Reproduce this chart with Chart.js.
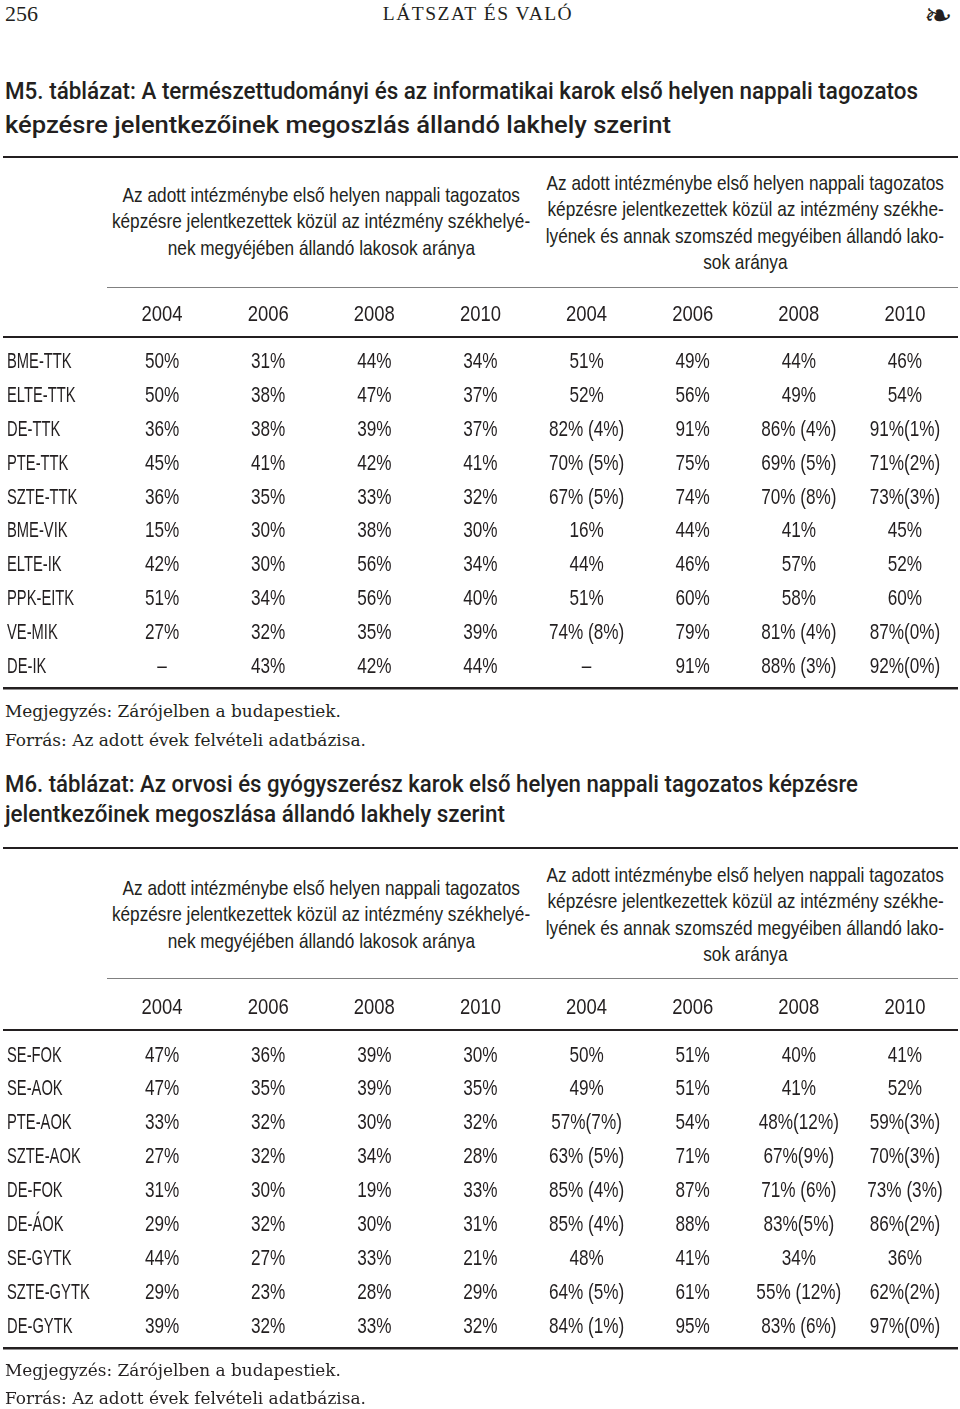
<!DOCTYPE html>
<html lang="hu">
<head>
<meta charset="utf-8">
<title>M5–M6. táblázat</title>
<script src="https://cdn.jsdelivr.net/npm/chart.js@4.4.1/dist/chart.umd.min.js"></script>
<style>
  body { margin: 0; background: #fff; }
  #page { position: relative; width: 960px; height: 1409px; overflow: hidden; color: #231f20;
    font-family: "Liberation Sans", Arial, sans-serif; }
  .t { position: absolute; white-space: nowrap; }
  .serif { font-family: "DejaVu Serif", "Liberation Serif", serif; }
  .title { left: 5px; font-family: Roboto, "Liberation Sans", sans-serif; font-size: 23px; font-weight: 500;
    line-height: 30px; transform-origin: 0 50%; }
  .head { font-size: 21px; line-height: 26.5px; transform-origin: 50% 50%; }
  .note { left: 5px; font-size: 16.5px; line-height: 24px; transform-origin: 0 50%; }
  .rule { position: absolute; background: #231f20; }
  .thin { position: absolute; background: #808080; height: 1px; left: 107px; width: 851px; }
  canvas { position: absolute; left: 0; }
</style>
</head>
<body>
<div id="page">
  <div class="t" style="left:5px;top:0;font-family:'Liberation Serif',serif;font-size:22px;line-height:28px;">256</div>
  <div class="t" style="left:330px;width:296px;text-align:center;top:1px;font-family:'Liberation Serif',serif;font-size:19.5px;line-height:26px;letter-spacing:1.5px;">LÁTSZAT ÉS VALÓ</div>
  <div class="t" style="left:924px;top:-4px;font-family:'DejaVu Sans';font-size:34px;line-height:38px;">❧</div>

  <div class="t title fit" data-w="913" style="top:77px;">M5. táblázat: A természettudományi és az informatikai karok első helyen nappali tagozatos</div>
  <div class="t title fit" data-w="666" style="top:111px;">képzésre jelentkezőinek megoszlás állandó lakhely szerint</div>
  <div class="rule" style="left:3px;width:955px;top:155.5px;height:2px;"></div>
  <div class="thin" style="top:287px;"></div>
  <canvas id="m5Chart" width="960" height="410" style="top:290px;"></canvas>
  <div class="t serif note fit" data-w="336" style="top:700px;">Megjegyzés: Zárójelben a budapestiek.</div>
  <div class="t serif note fit" data-w="361" style="top:729px;">Forrás: Az adott évek felvételi adatbázisa.</div>

  <div class="t title fit" data-w="853" style="top:770px;">M6. táblázat: Az orvosi és gyógyszerész karok első helyen nappali tagozatos képzésre</div>
  <div class="t title fit" data-w="500" style="top:800px;">jelentkezőinek megoszlása állandó lakhely szerint</div>
  <div class="rule" style="left:3px;width:955px;top:847px;height:2px;"></div>
  <div class="thin" style="top:978px;"></div>
  <canvas id="m6Chart" width="960" height="380" style="top:980px;"></canvas>
  <div class="t serif note fit" data-w="336" style="top:1359px;">Megjegyzés: Zárójelben a budapestiek.</div>
  <div class="t serif note fit" data-w="361" style="top:1387px;">Forrás: Az adott évek felvételi adatbázisa.</div>
</div>
<script>
const years = ["2004", "2006", "2008", "2010"];
const columns = years.concat(years);

const headLocal = [
  "Az adott intézménybe első helyen nappali tagozatos",
  "képzésre jelentkezettek közül az intézmény székhelyé-",
  "nek megyéjében állandó lakosok aránya"
];
const headNeighbour = [
  "Az adott intézménybe első helyen nappali tagozatos",
  "képzésre jelentkezettek közül az intézmény székhe-",
  "lyének és annak szomszéd megyéiben állandó lako-",
  "sok aránya"
];

const m5Rows = ["BME-TTK", "ELTE-TTK", "DE-TTK", "PTE-TTK", "SZTE-TTK", "BME-VIK", "ELTE-IK", "PPK-EITK", "VE-MIK", "DE-IK"];
const m5Cells = [
  ["50%", "31%", "44%", "34%", "51%", "49%", "44%", "46%"],
  ["50%", "38%", "47%", "37%", "52%", "56%", "49%", "54%"],
  ["36%", "38%", "39%", "37%", "82% (4%)", "91%", "86% (4%)", "91%(1%)"],
  ["45%", "41%", "42%", "41%", "70% (5%)", "75%", "69% (5%)", "71%(2%)"],
  ["36%", "35%", "33%", "32%", "67% (5%)", "74%", "70% (8%)", "73%(3%)"],
  ["15%", "30%", "38%", "30%", "16%", "44%", "41%", "45%"],
  ["42%", "30%", "56%", "34%", "44%", "46%", "57%", "52%"],
  ["51%", "34%", "56%", "40%", "51%", "60%", "58%", "60%"],
  ["27%", "32%", "35%", "39%", "74% (8%)", "79%", "81% (4%)", "87%(0%)"],
  ["–", "43%", "42%", "44%", "–", "91%", "88% (3%)", "92%(0%)"]
];

const m6Rows = ["SE-FOK", "SE-AOK", "PTE-AOK", "SZTE-AOK", "DE-FOK", "DE-ÁOK", "SE-GYTK", "SZTE-GYTK", "DE-GYTK"];
const m6Cells = [
  ["47%", "36%", "39%", "30%", "50%", "51%", "40%", "41%"],
  ["47%", "35%", "39%", "35%", "49%", "51%", "41%", "52%"],
  ["33%", "32%", "30%", "32%", "57%(7%)", "54%", "48%(12%)", "59%(3%)"],
  ["27%", "32%", "34%", "28%", "63% (5%)", "71%", "67%(9%)", "70%(3%)"],
  ["31%", "30%", "19%", "33%", "85% (4%)", "87%", "71% (6%)", "73% (3%)"],
  ["29%", "32%", "30%", "31%", "85% (4%)", "88%", "83%(5%)", "86%(2%)"],
  ["44%", "27%", "33%", "21%", "48%", "41%", "34%", "36%"],
  ["29%", "23%", "28%", "29%", "64% (5%)", "61%", "55% (12%)", "62%(2%)"],
  ["39%", "32%", "33%", "32%", "84% (1%)", "95%", "83% (6%)", "97%(0%)"]
];

const ink = "#231f20";
const family = '"Liberation Sans", Arial, sans-serif';
const fontSize = 22;
// the print face is a narrow grotesque; squeeze the sans horizontally to match
const squeeze = { cell: 0.78, year: 0.84, row: 0.67, head: 0.82 };

const page = document.getElementById("page");

document.querySelectorAll(".fit").forEach(el => {
  const w = el.getBoundingClientRect().width;
  el.style.transform = `scaleX(${Number(el.dataset.w) / w})`;
});

function placeHead(lines, cx, top) {
  lines.forEach((txt, i) => {
    const d = document.createElement("div");
    d.className = "t head";
    d.textContent = txt;
    d.style.top = (top + i * 26.5) + "px";
    page.appendChild(d);
    d.style.left = (cx - d.offsetWidth / 2) + "px";
    d.style.transform = `scaleX(${squeeze.head})`;
  });
}
placeHead(headLocal, 321, 181.5);
placeHead(headNeighbour, 745, 169.5);
placeHead(headLocal, 321, 874.5);
placeHead(headNeighbour, 745, 861.5);

function narrowText(ctx, txt, x, y, sx, align) {
  ctx.save();
  ctx.translate(x, y);
  ctx.scale(sx, 1);
  ctx.textAlign = align;
  ctx.fillText(txt, 0, 0);
  ctx.restore();
}

// cell text sits on the points of the scatter dataset; years and row names on the scale ticks
const tableText = {
  id: "tableText",
  afterDatasetsDraw(chart) {
    const ctx = chart.ctx;
    const data = chart.data.datasets[0].data;
    const xs = chart.scales.x, ys = chart.scales.y;
    const a = chart.chartArea;
    const rows = chart.options.plugins.tableText.rows;
    ctx.save();
    ctx.font = `${fontSize}px ${family}`;
    ctx.fillStyle = ink;
    ctx.textBaseline = "middle";
    chart.getDatasetMeta(0).data.forEach((pt, i) => {
      narrowText(ctx, data[i].t, pt.x, pt.y + 1.5, squeeze.cell, "center");
    });
    xs.ticks.forEach(t => {
      narrowText(ctx, columns[t.value], xs.getPixelForValue(t.value), a.top - 29.5, squeeze.year, "center");
    });
    ys.ticks.forEach(t => {
      narrowText(ctx, rows[t.value], ys.left, ys.getPixelForValue(t.value) + 1.5, squeeze.row, "left");
    });
    ctx.fillRect(3, a.top - 8, 955, 2);
    ctx.fillRect(3, a.bottom + 5, 955, 2.5);
    ctx.restore();
  }
};

function drawTable(id, rows, cells, axisHeight, bottomPad) {
  const points = [];
  cells.forEach((row, r) => row.forEach((t, c) => points.push({ x: c, y: r, t: t })));

  new Chart(document.getElementById(id), {
    type: "scatter",
    data: { datasets: [{ data: points, pointRadius: 0, pointHoverRadius: 0 }] },
    options: {
      responsive: false,
      animation: false,
      events: [],
      layout: { padding: { left: 7, right: 2, top: 0, bottom: bottomPad } },
      plugins: { legend: { display: false }, tooltip: { enabled: false }, tableText: { rows: rows } },
      scales: {
        x: {
          type: "linear", position: "top", min: -0.5, max: columns.length - 0.5,
          afterBuildTicks: s => { s.ticks = columns.map((_, i) => ({ value: i })); },
          afterFit: s => { s.height = axisHeight; },
          ticks: { display: false },
          grid: { display: false, drawTicks: false },
          border: { display: false }
        },
        y: {
          type: "linear", reverse: true, min: -0.5, max: rows.length - 0.5,
          afterBuildTicks: s => { s.ticks = rows.map((_, i) => ({ value: i })); },
          afterFit: s => { s.width = 102; },
          ticks: { display: false },
          grid: { display: false, drawTicks: false },
          border: { display: false }
        }
      }
    },
    plugins: [tableText]
  });
}

drawTable("m5Chart", m5Rows, m5Cells, 54, 18);
drawTable("m6Chart", m6Rows, m6Cells, 57, 18);
</script>
</body>
</html>
